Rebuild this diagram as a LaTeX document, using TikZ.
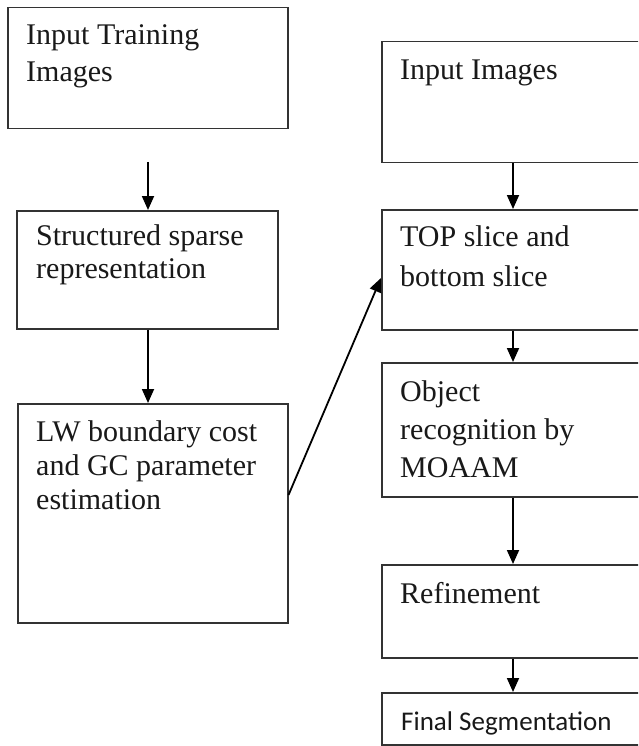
\documentclass[tikz,border=0pt]{standalone}
\usepackage{fontspec}
\setmainfont{Liberation Serif}
\newfontfamily\calibfont{Carlito}
\usetikzlibrary{arrows.meta}
\begin{document}
\begin{tikzpicture}[x=1pt,y=-1pt,
  box/.style={draw=black!80,line width=1.5pt,rectangle,inner sep=0pt,anchor=north west},
  lbl/.style={anchor=base west,align=left,inner sep=0pt,text=black!90},
  arr/.style={-{Triangle[length=14pt,width=12pt]},line width=1.8pt,draw=black}]
\useasboundingbox (0,0) rectangle (638,746);
\clip (0,0) rectangle (638,746);
\fill[white] (0,0) rectangle (638,746);
% boxes
\node[box,minimum width=280pt,minimum height=121pt] (b1) at (7,7) {};
\node[box,minimum width=261pt,minimum height=118pt] (b2) at (16,210) {};
\node[box,minimum width=270pt,minimum height=219pt] (b3) at (17,403) {};
\node[box,minimum width=280pt,minimum height=121pt] (b4) at (381,41) {};
\node[box,minimum width=280pt,minimum height=120pt] (b5) at (381,209) {};
\node[box,minimum width=280pt,minimum height=134pt] (b6) at (381,362) {};
\node[box,minimum width=280pt,minimum height=93pt] (b7) at (381,564) {};
\node[box,minimum width=280pt,minimum height=52pt] (b8) at (381,692) {};
% texts (base anchor = baseline of the last line)
\node[lbl,font=\fontsize{30}{37}\selectfont] (l1) at (26,82) {Input Training\\Images};
\node[lbl,font=\fontsize{30}{33}\selectfont] (l2) at (36,278) {Structured sparse\\representation};
\node[lbl,font=\fontsize{30}{34}\selectfont] (l3) at (36,509) {LW boundary cost\\and GC parameter\\estimation};
\node[lbl,font=\fontsize{30}{36}\selectfont] (l4) at (400,80) {Input Images};
\node[lbl,font=\fontsize{30}{40}\selectfont] (l5) at (400,286) {TOP slice and\\bottom slice};
\node[lbl,font=\fontsize{30}{38}\selectfont] (l6) at (400,477) {Object\\recognition by\\MOAAM};
\node[lbl,font=\fontsize{30}{36}\selectfont] (l7) at (400,603) {Refinement};
\node[lbl,font=\calibfont\fontsize{27}{32}\selectfont] (l8) at (401,730) {Final Segmentation};
% connectors
\coordinate (cL) at (148,0);
\coordinate (cR) at (513,0);
\coordinate (t1) at (148,162);
\draw[arr] (t1) -- (t1 |- b2.north);
\draw[arr] (b2.south -| cL) -- (b3.north -| cL);
\draw[arr] ([yshift=-92pt]b3.north east) -- ([yshift=-69pt]b5.north west);
\draw[arr] (b4.south -| cR) -- (b5.north -| cR);
\draw[arr] (b5.south -| cR) -- (b6.north -| cR);
\draw[arr] (b6.south -| cR) -- (b7.north -| cR);
\draw[arr] (b7.south -| cR) -- (b8.north -| cR);
\end{tikzpicture}
\end{document}
